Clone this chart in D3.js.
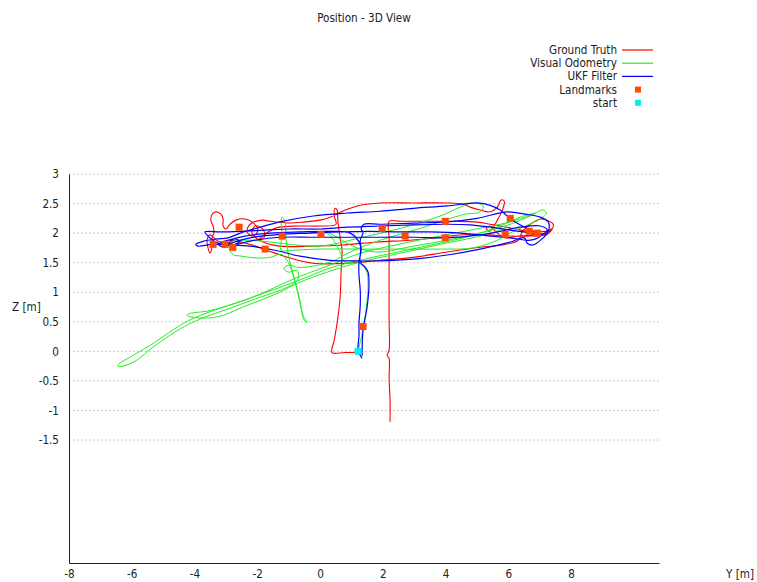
<!DOCTYPE html>
<html>
<head>
<meta charset="utf-8">
<script src="https://cdn.jsdelivr.net/npm/d3@7"></script>
<style>
  html, body { margin: 0; padding: 0; background: #fff; }
  svg { display: block; font-family: "DejaVu Sans Condensed", "DejaVu Sans", sans-serif; font-stretch: condensed; }
</style>
</head>
<body>
<svg id="chart" width="757" height="582"></svg>
<script>
// Tick values for the horizontal (Y) and vertical (Z) axes
const yTicks = [-8, -6, -4, -2, 0, 2, 4, 6, 8];
const zTicks = [-1.5, -1, -0.5, 0, 0.5, 1, 1.5, 2, 2.5, 3];

const seriesNames = ["Ground Truth", "Visual Odometry", "UKF Filter", "Landmarks", "start"];

// Trajectories as [Y, Z] in metres
const groundTruth = [
  [2.23,-1.19],[2.23,-0.83],[2.20,-0.46],[2.20,-0.12],[2.14,-0.07],[2.20,0.02],[2.20,0.53],[2.20,1.03],
  [2.20,1.54],[2.20,1.92],[2.20,2.20],[2.55,2.20],[3.35,2.20],[4.15,2.20],[4.94,2.19],[5.42,2.15],
  [5.74,2.12],[6.22,2.07],[6.70,2.03],[7.18,2.03],[7.40,2.08],[7.43,2.15],[7.30,2.20],[7.02,2.24],
  [6.70,2.15],[6.44,2.02],[6.32,1.88],[5.90,1.81],[5.10,1.76],[4.05,1.68],[2.97,1.59],[1.91,1.54],
  [0.86,1.49],[-0.22,1.49],[-0.96,1.58],[-1.59,1.69],[-2.17,1.80],[-2.62,1.86],[-2.93,1.88],[-3.19,1.85],
  [-3.38,1.92],[-3.51,1.97],[-3.60,1.88],[-3.57,1.75],[-3.51,1.66],[-3.44,1.78],[-3.44,1.92],[-3.38,2.02],
  [-3.41,2.12],[-3.48,2.22],[-3.44,2.32],[-3.32,2.36],[-3.16,2.32],[-3.09,2.24],[-3.09,2.12],[-3.00,2.07],
  [-2.87,2.15],[-2.68,2.22],[-2.39,2.24],[-2.17,2.19],[-1.98,2.05],[-2.14,1.95],[-2.33,2.02],[-2.23,2.15],
  [-1.85,2.22],[-1.59,2.20],[-0.96,2.17],[-0.48,2.19],[0,2.22],[0.32,2.27],
  [0.80,2.39],[1.28,2.47],[1.91,2.51],[2.97,2.51],[4.05,2.51],[4.53,2.49],[4.78,2.44],[5.10,2.39],
  [5.42,2.36],[5.65,2.44],[5.77,2.56],[5.87,2.54],[5.81,2.39],[5.65,2.22],[5.49,2.08],[5.39,2.03],
  [5.30,2.08],[5.42,2.12],[5.61,2.02],[5.90,1.92],[6.32,1.95],[6.79,1.97],[7.21,2.00],[7.40,2.07],
  [7.24,1.98],[6.70,1.95],[6.06,1.95],[5.42,1.97],[4.78,1.98],[4.15,1.95],[3.83,1.93],[2.87,1.88],
  [1.82,1.85],[0.73,1.80],[-0.32,1.78],[-1.28,1.78],[-1.85,1.86],[-2.17,2.00],[-2.07,2.12],[-1.85,2.08],
  [-1.75,1.95],[-1.98,1.88],[-1.44,2.08],[-0.64,2.12],[0,2.12],[0.51,2.15],[0.45,2.29],[0.48,2.42],
  [0.54,2.39],[0.57,2.19],[0.64,1.92],[0.70,1.71],[0.67,1.34],[0.64,0.92],[0.54,0.47],[0.45,0.19],
  [0.38,-0.02],[0.80,-0.02],[1.18,-0.02]
];

const visualOdometry = [
  [1.21,0],[1.34,0.31],[1.47,0.73],[1.53,1.12],[1.47,1.37],[1.18,1.51],[0.80,1.51],[0.61,1.71],
  [0.38,1.92],[0.19,2.02],[0.48,1.95],[0.96,1.80],[1.44,1.71],[1.91,1.68],[2.97,1.78],[4.05,1.88],
  [5.10,2.00],[6.06,2.15],[6.70,2.29],[7.11,2.39],[7.21,2.34],[7.02,2.24],[6.54,2.12],[6.16,2.03],
  [5.65,1.88],[4.88,1.75],[3.83,1.73],[2.55,1.73],[1.28,1.73],[0,1.73],[-0.96,1.71],[-1.24,1.71],
  [-1.21,1.97],[-1.24,2.19],[-1.21,2.27],[-1.12,2.20],[-1.08,1.88],[-0.96,1.51],[-0.80,1.20],[-0.64,0.86],
  [-0.51,0.53],[-0.41,0.49],[-0.54,0.61],[-0.77,1.12],[-1.02,1.51],[-1.24,1.64],[-1.59,1.59],[-2.07,1.58],
  [-2.49,1.61],[-2.78,1.64],[-2.90,1.76],[-2.78,1.86],[-2.39,1.88],[-1.75,1.86],[-0.96,1.81],[0,1.78],
  [1.28,1.92],[2.55,2.08],[3.83,2.29],[4.47,2.44],[4.88,2.51],[5.20,2.46],[5.10,2.36],[4.63,2.32],
  [4.15,2.25],[3.19,2.08],[1.91,1.88],[0.96,1.68],[0.32,1.51],[-0.70,1.42],[-0.96,1.46],[-1.15,1.41],
  [-1.02,1.34],[-0.73,1.37],[-0.73,1.20],[-2.46,0.81],[-4.15,0.47],[-5.33,0.07],[-5.84,-0.15],[-6.28,-0.25],
  [-6.44,-0.25],[-6.38,-0.20],[-6.06,-0.10],[-5.42,0.10],[-4.15,0.53],[-2.23,0.90],[-0.73,1.19],[0.32,1.41],
  [1.59,1.58],[3.19,1.76],[4.78,1.95],[5.74,2.12],[6.38,2.27],[6.86,2.34],[6.06,2.19],[4.78,2.05],
  [3.51,1.92],[2.23,1.78],[1.28,1.66],[0.32,1.46],[-0.73,1.25],[-2.23,0.90],[-3.51,0.69],[-4.15,0.64],
  [-4.24,0.61],[-4.08,0.58],[-3.29,0.58],[-2.46,0.75],[-1.37,0.98],[-0.64,1.17],[0.22,1.34],[1.28,1.51],
  [2.55,1.66],[3.83,1.81],[5.10,1.95],[5.90,2.08]
];

const ukfFilter = [
  [1.34,-0.12],[1.28,-0.07],[1.21,0.00],[1.24,0.27],[1.24,0.47],[1.28,0.78],[1.28,1.03],[1.24,1.29],
  [1.24,1.51],[1.31,1.71],[1.28,1.88],[1.37,2.00],[1.31,2.08],[1.40,2.15],[1.91,2.15],[2.97,2.17],
  [4.05,2.19],[5.01,2.25],[5.96,2.36],[6.54,2.32],[7.02,2.27],[7.27,2.19],[7.30,2.08],[7.24,2.00],
  [7.11,1.92],[6.79,1.80],[6.60,1.83],[6.51,1.92],[6.06,1.85],[5.10,1.73],[4.05,1.63],[2.97,1.56],
  [1.91,1.53],[1.18,1.53],[0.32,1.54],[-0.64,1.61],[-1.44,1.71],[-2.23,1.78],[-2.87,1.80],[-3.44,1.81],
  [-3.89,1.78],[-3.96,1.81],[-3.73,1.86],[-3.32,1.90],[-2.93,1.92],[-2.55,2.00],[-1.91,2.10],[-1.28,2.19],
  [-0.22,2.29],[0.86,2.34],[1.91,2.37],[2.97,2.42],[4.05,2.46],[5.01,2.51],[5.42,2.47],[5.74,2.39],
  [6.12,2.22],[6.63,2.07],[7.08,1.98],[7.24,2.05],[7.02,2.12],[6.38,2.10],[5.74,2.03],[5.10,1.97],
  [4.05,1.92],[2.97,1.93],[1.91,1.93],[1.18,1.93],[-0.22,1.93],[-1.28,1.93],[-2.07,1.88],[-2.71,1.81],
  [-2.55,1.86],[-2.74,1.90],[-2.93,1.81],[-2.87,1.83],
  [-3.25,1.83],[-3.57,1.95],[-3.67,2.02],[-3.19,2.02],[-2.55,2.03],[-1.75,2.05],[-0.96,2.07],[0,2.07],
  [0.86,2.10],[1.91,2.12],[2.97,2.14],[4.05,2.15],[4.78,2.14],[5.42,2.10],[6.06,2.05],[6.70,2.00],
  [7.02,1.95],[6.70,1.88],[6.06,1.92],[5.42,1.95],[4.47,2.00],[3.51,2.02],[2.55,2.02],[1.59,2.03],
  [0.64,2.02],[-0.32,2.00],[-1.28,1.98],[-2.23,1.92],[-2.81,1.83],[-3.03,1.76],[-3.25,1.81],[-2.93,1.88],
  [-2.39,1.95],[-1.59,2.00],[-0.64,2.02],[0.32,2.03],[0.96,2.00],[1.28,1.80],[1.28,1.51],[1.44,1.42],
  [1.53,1.34],[1.56,1.15],[1.50,0.75],[1.37,0.36],[1.34,0.02],[1.34,-0.08]
];

// Landmark positions and the start point, [Y, Z]
const landmarks = [
  [-3.41,1.81],[-3.03,1.81],[-2.78,1.76],[-2.58,2.10],[-1.75,1.73],[-1.21,1.95],[0.03,1.98],[1.98,2.08],
  [2.71,1.95],[3.99,2.20],[3.99,1.92],[1.37,0.42],[6.06,2.25],[5.90,1.98],[6.67,2.03],[6.92,2.00]
];
const startPoint = [[1.21, 0.0]];

const colors = {
  gt: "#ff0000",
  vo: "#22ee22",
  ukf: "#0000ff",
  lm: "#ff4a00",
  start: "#00f0f0"
};

const FONT = 11.6;

const svg = d3.select("#chart");
const x = d3.scaleLinear().domain([-8, 10.8]).range([69, 659]);
const y = d3.scaleLinear().domain([-3.58, 3]).range([563, 174]);

// Title
svg.append("text")
  .attr("x", 364).attr("y", 22)
  .attr("text-anchor", "middle")
  .attr("font-size", FONT).attr("fill", "#222")
  .text("Position - 3D View");

// Dotted horizontal grid
svg.append("g").selectAll("line")
  .data(zTicks).join("line")
  .attr("x1", x(-8)).attr("x2", x(10.8))
  .attr("y1", d => y(d)).attr("y2", d => y(d))
  .attr("stroke", "#b8b8b8").attr("stroke-width", 1)
  .attr("stroke-dasharray", "1.5,2.5");

// Axes
const fmt = d => String(d);
const gx = svg.append("g").attr("transform", `translate(0,${y(-3.58)})`)
  .call(d3.axisBottom(x).tickValues(yTicks).tickFormat(fmt).tickSize(0).tickPadding(7));
const gy = svg.append("g").attr("transform", `translate(${x(-8)},0)`)
  .call(d3.axisLeft(y).tickValues(zTicks).tickFormat(fmt).tickSize(0).tickPadding(10));
[gx, gy].forEach(g => {
  g.select(".domain").attr("stroke", "#222").attr("stroke-width", 1);
  g.selectAll("text").attr("font-size", FONT).attr("fill", "#222")
    .attr("font-family", "'DejaVu Sans Condensed','DejaVu Sans',sans-serif");
});

// Axis titles
svg.append("text").attr("x", 12).attr("y", 311)
  .attr("font-size", FONT).attr("fill", "#222").text("Z [m]");
svg.append("text").attr("x", 726).attr("y", 578)
  .attr("font-size", FONT).attr("fill", "#222").text("Y [m]");

// Trajectory lines
const line = d3.line()
  .x(d => x(d[0])).y(d => y(d[1]))
  .curve(d3.curveCatmullRom.alpha(0.5));

const plot = svg.append("g");
[[groundTruth, colors.gt, 1.1], [visualOdometry, colors.vo, 1], [ukfFilter, colors.ukf, 1.2]]
  .forEach(([data, c, w]) => {
    plot.append("path").datum(data)
      .attr("d", line)
      .attr("fill", "none").attr("stroke", c).attr("stroke-width", w)
      .attr("stroke-linejoin", "round");
  });

// Landmarks and start markers
const sq = 7;
plot.append("g").selectAll("rect").data(landmarks).join("rect")
  .attr("x", d => x(d[0]) - sq / 2).attr("y", d => y(d[1]) - sq / 2)
  .attr("width", sq).attr("height", sq).attr("fill", colors.lm);
plot.append("g").selectAll("rect").data(startPoint).join("rect")
  .attr("x", d => x(d[0]) - sq / 2).attr("y", d => y(d[1]) - sq / 2)
  .attr("width", sq).attr("height", sq).attr("fill", colors.start);

// Legend
const legendColors = [colors.gt, colors.vo, colors.ukf, colors.lm, colors.start];
const legend = svg.append("g");
seriesNames.forEach((name, i) => {
  const cy = 50 + i * 13.2;
  legend.append("text").attr("x", 617).attr("y", cy + 4)
    .attr("text-anchor", "end").attr("font-size", FONT).attr("fill", "#222")
    .text(name);
  if (i < 3) {
    legend.append("line").attr("x1", 622).attr("x2", 653)
      .attr("y1", cy).attr("y2", cy)
      .attr("stroke", legendColors[i]).attr("stroke-width", 1.2);
  } else {
    legend.append("rect").attr("x", 638 - 3).attr("y", cy - 3)
      .attr("width", 6).attr("height", 6).attr("fill", legendColors[i]);
  }
});
</script>
</body>
</html>
